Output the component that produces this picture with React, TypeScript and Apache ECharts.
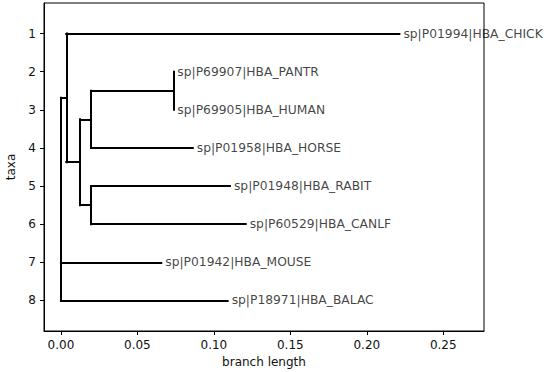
import React, { useEffect, useRef } from "react";
import * as echarts from "echarts";

// Tip (leaf) taxa, top to bottom, and their depth (branch length from root)
const tipNames = [
  "sp|P01994|HBA_CHICK",
  "sp|P69907|HBA_PANTR",
  "sp|P69905|HBA_HUMAN",
  "sp|P01958|HBA_HORSE",
  "sp|P01948|HBA_RABIT",
  "sp|P60529|HBA_CANLF",
  "sp|P01942|HBA_MOUSE",
  "sp|P18971|HBA_BALAC",
];
const tipDepths = [0.2213, 0.0735, 0.0735, 0.0862, 0.1105, 0.1208, 0.0656, 0.109];

// Internal clades: id, depth, children (tips are "t<index>")
const cladeIds = ["root", "c1", "c2", "c3", "c4", "c5"];
const cladeDepths = [0, 0.0035, 0.0125, 0.0197, 0.0197, 0.0735];
const cladeChildren = [
  ["c1", "t6", "t7"],
  ["t0", "c2"],
  ["c3", "c4"],
  ["c5", "t3"],
  ["t4", "t5"],
  ["t1", "t2"],
];

const xTicks = [0, 0.05, 0.1, 0.15, 0.2, 0.25];
const yTicks = [1, 2, 3, 4, 5, 6, 7, 8];

function buildTree() {
  const depth: Record<string, number> = {};
  const children: Record<string, string[]> = {};
  tipNames.forEach((_, i) => (depth["t" + i] = tipDepths[i]));
  cladeIds.forEach((id, i) => {
    depth[id] = cladeDepths[i];
    children[id] = cladeChildren[i];
  });
  const ypos: Record<string, number> = {};
  const getY = (id: string): number => {
    if (ypos[id] !== undefined) return ypos[id];
    if (id.startsWith("t")) {
      ypos[id] = parseInt(id.slice(1), 10) + 1;
    } else {
      const ch = children[id];
      ypos[id] = (getY(ch[0]) + getY(ch[ch.length - 1])) / 2;
    }
    return ypos[id];
  };
  const segs: { coords: number[][] }[] = [];
  const walk = (id: string, parentX: number) => {
    const x = depth[id];
    const y = getY(id);
    segs.push({ coords: [[parentX, y], [x, y]] });
    const ch = children[id];
    if (ch) {
      segs.push({ coords: [[x, getY(ch[0])], [x, getY(ch[ch.length - 1])]] });
      ch.forEach((c) => walk(c, x));
    }
  };
  walk("root", 0);
  return segs;
}

export default function App() {
  const ref = useRef<HTMLDivElement>(null);
  useEffect(() => {
    if (!ref.current) return;
    const chart = echarts.init(ref.current, undefined, { renderer: "svg" });
    const segs = buildTree();
    const xmax = Math.max(...tipDepths);
    const font = "DejaVu Sans";
    const txt = "#111";
    chart.setOption({
      animation: false,
      textStyle: { fontFamily: font },
      grid: {
        left: 44,
        top: 3,
        right: 70,
        bottom: 41,
        show: true,
        borderColor: "#000",
        borderWidth: 1,
        backgroundColor: "transparent",
        outerBoundsMode: "none",
        containLabel: false,
      },
      xAxis: {
        type: "value",
        min: -0.05 * xmax,
        max: 1.25 * xmax,
        name: "branch length",
        nameLocation: "middle",
        nameGap: 25,
        nameTextStyle: { color: txt, fontSize: 12, fontFamily: font },
        axisLine: { show: true, onZero: false, lineStyle: { color: "#000", width: 1 } },
        axisTick: { show: true, customValues: xTicks, length: 4, inside: false, lineStyle: { color: "#000" } },
        axisLabel: {
          customValues: xTicks,
          formatter: (v: number) => v.toFixed(2),
          color: txt,
          fontSize: 12,
          margin: 8,
          fontFamily: font,
        },
        splitLine: { show: false },
      },
      yAxis: {
        type: "value",
        inverse: true,
        min: 0.2,
        max: 8.8,
        name: "taxa",
        nameLocation: "middle",
        nameGap: 22,
        nameRotate: 90,
        nameTextStyle: { color: txt, fontSize: 12, fontFamily: font },
        axisLine: { show: true, onZero: false, lineStyle: { color: "#000", width: 1 } },
        axisTick: { show: true, customValues: yTicks, length: 4, inside: false, lineStyle: { color: "#000" } },
        axisLabel: {
          customValues: yTicks,
          formatter: (v: number) => String(v),
          color: txt,
          fontSize: 12,
          margin: 8,
          fontFamily: font,
        },
        splitLine: { show: false },
      },
      series: [
        {
          type: "lines",
          coordinateSystem: "cartesian2d",
          polyline: false,
          silent: true,
          lineStyle: { color: "#000", width: 2, opacity: 1, cap: "square" },
          data: segs,
          z: 2,
        },
        {
          type: "scatter",
          symbolSize: 0,
          silent: true,
          data: tipNames.map((n, i) => ({ name: n, value: [tipDepths[i], i + 1] })),
          label: {
            show: true,
            position: "right",
            distance: 4,
            formatter: (p: any) => p.name,
            color: txt,
            fontSize: 12.3,
            fontFamily: font,
          },
          z: 3,
        },
      ],
    });
    return () => chart.dispose();
  }, []);
  return (
    <div
      ref={ref}
      style={{ position: "fixed", left: 0, top: 0, width: 554, height: 372, background: "#fff" }}
    />
  );
}
